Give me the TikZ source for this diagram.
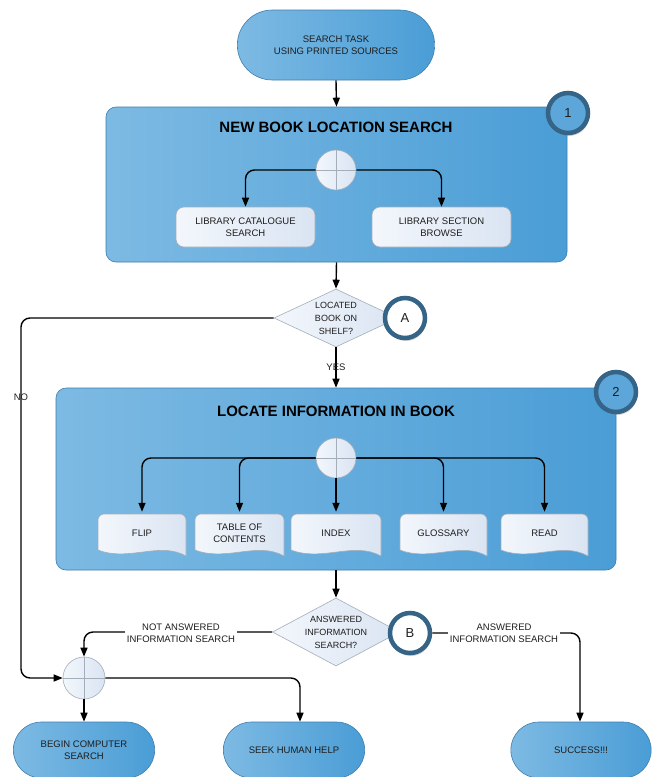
\documentclass[tikz,border=0pt]{standalone}
\usepackage{fontspec}
\setmainfont{Liberation Sans}
\usetikzlibrary{arrows.meta,shapes.geometric,shapes.misc,shadows,calc}

\definecolor{bluel}{HTML}{7DBAE3}
\definecolor{bluer}{HTML}{4A9DD6}
\definecolor{blueb}{HTML}{3E7EAF}
\definecolor{palel}{HTML}{F3F7FC}
\definecolor{paler}{HTML}{DAE4F2}
\definecolor{grayb}{HTML}{A3AEBA}
\definecolor{ring}{HTML}{356487}
\definecolor{badgefill}{HTML}{5DA6D9}
\definecolor{txt}{HTML}{1E1E1E}

\newcommand{\docat}[4]{%
  \path[docshape] ({#1-#3/2},{#2+#4/2-6}) [rounded corners=6] -- ({#1-#3/2},{#2-#4/2}) -- ({#1+#3/2},{#2-#4/2}) [sharp corners] -- ({#1+#3/2},{#2+#4/2})
   .. controls ({#1+0.2*#3},{#2+#4/2-15}) and ({#1-0.15*#3},{#2+#4/2+6}) .. ({#1-#3/2},{#2+#4/2-6}) -- cycle;}

\tikzset{
  sm/.style={font=\fontsize{9.5}{12}\selectfont, text=txt, align=center},
  terminal/.style={sm, rounded rectangle, draw=blueb, line width=0.6pt, left color=bluel, right color=bluer, minimum width=#1, minimum height=56},
  panel/.style={rectangle, rounded corners=10, draw=blueb, line width=0.6pt, left color=bluel, right color=bluer},
  title/.style={font=\bfseries\fontsize{15}{18}\selectfont, text=black},
  wbox/.style={sm, rectangle, rounded corners=8, draw=grayb, line width=0.6pt, left color=palel, right color=paler, minimum width=139, minimum height=40},
  docshape/.style={draw=grayb, line width=0.6pt, left color=palel, right color=paler},
  docnode/.style={sm, rectangle, minimum height=42, inner sep=0pt},
  junc/.style={circle, minimum size=40, draw=grayb, line width=0.6pt, left color=palel, right color=paler},
  cross/.style={draw=grayb, line width=0.8pt},
  dec/.style={sm, font=\fontsize{9}{13}\selectfont, diamond, draw=grayb, line width=0.6pt, left color=palel, right color=paler, inner sep=0pt, aspect=2},
  badge/.style={circle, minimum size=40, draw=ring, line width=4.5pt, font=\fontsize{13}{15}\selectfont, text=txt, drop shadow={opacity=0.35, shadow xshift=1pt, shadow yshift=-3pt}},
  arr/.style={-{Triangle[length=9pt,width=7pt]}, line width=1.4pt, black, rounded corners=9},
  lbl/.style={sm}
}

\begin{document}
\begin{tikzpicture}[x=1pt,y=-1pt]
\useasboundingbox (0,0) rectangle (654,777);
\clip (0,0) rectangle (654,777);
\fill[white] (0,0) rectangle (654,777);

% top terminal
\node[terminal=204, minimum height=70] (start) at (336,45) {SEARCH TASK\\USING PRINTED SOURCES};

% panel 1
\node[panel, minimum width=461, minimum height=155] (p1) at (336.5,184.5) {};
\node[title] (t1) at (336,127) {NEW BOOK LOCATION SEARCH};
\node[badge, fill=badgefill] (b1) at (568,113) {1};
\node[junc] (j1) at (336,170) {};
\draw[cross] (j1.north) -- (j1.south) (j1.west) -- (j1.east);
\node[wbox] (lcs) at (245.5,227) {LIBRARY CATALOGUE\\SEARCH};
\node[wbox] (lsb) at (441.5,227) {LIBRARY SECTION\\BROWSE};
\draw[arr] (j1.west) -| (lcs.north);
\draw[arr] (j1.east) -| (lsb.north);

\draw[arr] (start.south) -- (p1.north);

% decision A
\node[dec, minimum width=124, minimum height=58] (d1) at (336,318) {LOCATED\\BOOK ON\\SHELF?};
\draw[arr] (p1.south) -- (d1.north);
\node[badge, fill=white] (bA) at (405,318) {A};

% panel 2
\node[panel, minimum width=560, minimum height=182] (p2) at (336,479) {};
\node[title] (t2) at (336,411) {LOCATE INFORMATION IN BOOK};
\node[badge, fill=badgefill] (b2) at (616,392) {2};
\node[junc] (j2) at (336,458) {};
\draw[cross] (j2.north) -- (j2.south) (j2.west) -- (j2.east);

\docat{142}{535}{88}{42}
\docat{239.5}{535}{89}{42}
\docat{336}{535}{90}{42}
\docat{443.5}{535}{87}{42}
\docat{544.5}{535}{87}{42}
\node[docnode, minimum width=88] (flip) at (142,533) {FLIP};
\node[docnode, minimum width=89] (toc) at (239.5,533) {TABLE OF\\CONTENTS};
\node[docnode, minimum width=90] (idx) at (336,533) {INDEX};
\node[docnode, minimum width=87] (glos) at (443.5,533) {GLOSSARY};
\node[docnode, minimum width=87] (read) at (544.5,533) {READ};
\draw[arr] (j2.west) -| (flip.north);
\draw[arr] (j2.west) -| (toc.north);
\draw[arr] (j2.south) -- (idx.north);
\draw[arr] (j2.east) -| (glos.north);
\draw[arr] (j2.east) -| (read.north);

\draw[arr] (d1.south) -- node[lbl] (yes) {YES} (p2.north);

% decision B
\node[dec, minimum width=120, minimum height=68] (d2) at (336,632) {ANSWERED\\INFORMATION\\SEARCH?};
\draw[arr] (p2.south) -- (d2.north);
\node[badge, fill=white] (bB) at (410,633) {B};

% bottom row
\node[junc, minimum size=42] (j3) at (84,678) {};
\draw[cross] (j3.north) -- (j3.south) (j3.west) -- (j3.east);
\node[terminal=148] (bcs) at (84,750) {BEGIN COMPUTER\\SEARCH};
\node[terminal=148] (seek) at (294,750) {SEEK HUMAN HELP};
\node[terminal=147] (succ) at (581,750) {SUCCESS!!!};

\coordinate (nox) at (21,318);
\draw[arr] (d1.west) -- (nox) |- (j3.west);
\node[lbl] (no) at (21,397) {NO};

\draw[arr] (d2.west) -| (j3.north);
\node[lbl, fill=white, inner sep=2pt] (nal) at (181,633) {NOT ANSWERED\\INFORMATION SEARCH};
\draw[arr] (bB.east) -| ([xshift=-1pt]succ.north);
\node[lbl, fill=white, inner sep=2pt] (al) at (504,633) {ANSWERED\\INFORMATION SEARCH};

\draw[arr] (j3.south) -- (bcs.north);
\draw[arr] (j3.east) -| ([xshift=6pt]seek.north);
\end{tikzpicture}
\end{document}
